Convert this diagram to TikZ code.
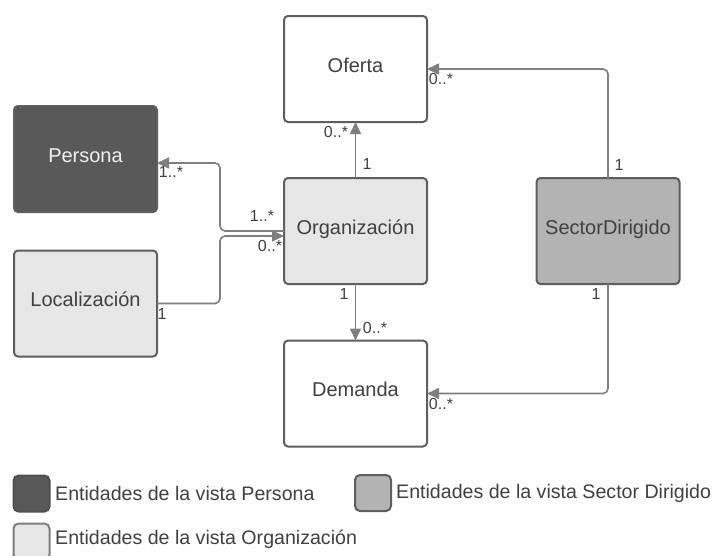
\documentclass[tikz,border=0pt]{standalone}
\usepackage{fontspec}
\setmainfont{Liberation Sans}
\usetikzlibrary{arrows.meta}
\definecolor{bordc}{HTML}{5E5E5E}
\definecolor{linec}{HTML}{7F7F7F}
\definecolor{txtc}{HTML}{404040}
\definecolor{darkf}{HTML}{595959}
\definecolor{midf}{HTML}{B3B3B3}
\definecolor{lightf}{HTML}{E6E6E6}
\tikzset{
  ent/.style={draw=bordc, line width=2pt, rounded corners=4pt, minimum width=143pt, minimum height=106pt, inner sep=0pt, outer sep=0pt, text=txtc, text height=14pt, text depth=8pt, font=\fontsize{20}{22}\selectfont},
  conn/.style={draw=linec, line width=1.6pt, rounded corners=5pt, -{Triangle[length=12pt,width=11pt]}},
  card/.style={inner sep=0pt, text=txtc, font=\fontsize{16}{18}\selectfont},
  swatch/.style={draw=bordc, line width=2pt, rounded corners=5pt, minimum width=36pt, minimum height=36pt, inner sep=0pt},
  legtxt/.style={anchor=west, inner sep=0pt, text=txtc, font=\fontsize{19.6}{22}\selectfont},
}
\begin{document}
\begin{tikzpicture}[x=1pt,y=-1pt]
\useasboundingbox (0,0) rectangle (717,555);
\fill[white] (0,0) rectangle (717,555);
% entities
\node[ent, fill=darkf, text=white!94!black] (persona) at (85.5,159) {Persona};
\node[ent, fill=lightf] (loc) at (85.5,303.5) {Localización};
\node[ent, fill=white] (oferta) at (355.5,69) {Oferta};
\node[ent, fill=lightf] (org) at (355.5,231) {Organización};
\node[ent, fill=white] (demanda) at (355.5,393.5) {Demanda};
\node[ent, fill=midf] (sector) at (608,231) {SectorDirigido};
\coordinate (jx) at (220,0);
% connectors
\draw[conn] (org.north) -- (oferta.south);
\draw[conn] (org.south) -- (demanda.north);
\draw[conn] (sector.north) |- (oferta.east);
\draw[conn] (sector.south) |- (demanda.east);
\draw[conn] (org.west) -- (org.west -| jx) |- ([yshift=-4pt]persona.east);
\draw[conn] (loc.east) -- (loc.east -| jx) |- ([yshift=-5pt]org.west);
% cardinalities
\node[card] (c1) at (336,132) {0..*};
\node[card] (c2) at (367,164) {1};
\node[card] (c3) at (441,79) {0..*};
\node[card] (c4) at (619,165) {1};
\node[card] (c5) at (596,294) {1};
\node[card] (c6) at (441,404) {0..*};
\node[card] (c7) at (344,294) {1};
\node[card] (c8) at (375,328) {0..*};
\node[card] (c9) at (171,172) {1..*};
\node[card] (c10) at (262,216) {1..*};
\node[card] (c11) at (270,246) {0..*};
\node[card] (c12) at (162,314) {1};
% legend
\node[swatch, fill=darkf, draw=darkf!90!black] (s1) at (31.5,493.5) {};
\node[legtxt] (l1) at (55,493) {Entidades de la vista Persona};
\node[swatch, fill=midf] (s2) at (373,493) {};
\node[legtxt] (l2) at (396,493) {Entidades de la vista Sector Dirigido};
\node[swatch, fill=lightf, draw=bordc!80!white] (s3) at (31.5,541.5) {};
\node[legtxt] (l3) at (55,539) {Entidades de la vista Organización};
\end{tikzpicture}
\end{document}
